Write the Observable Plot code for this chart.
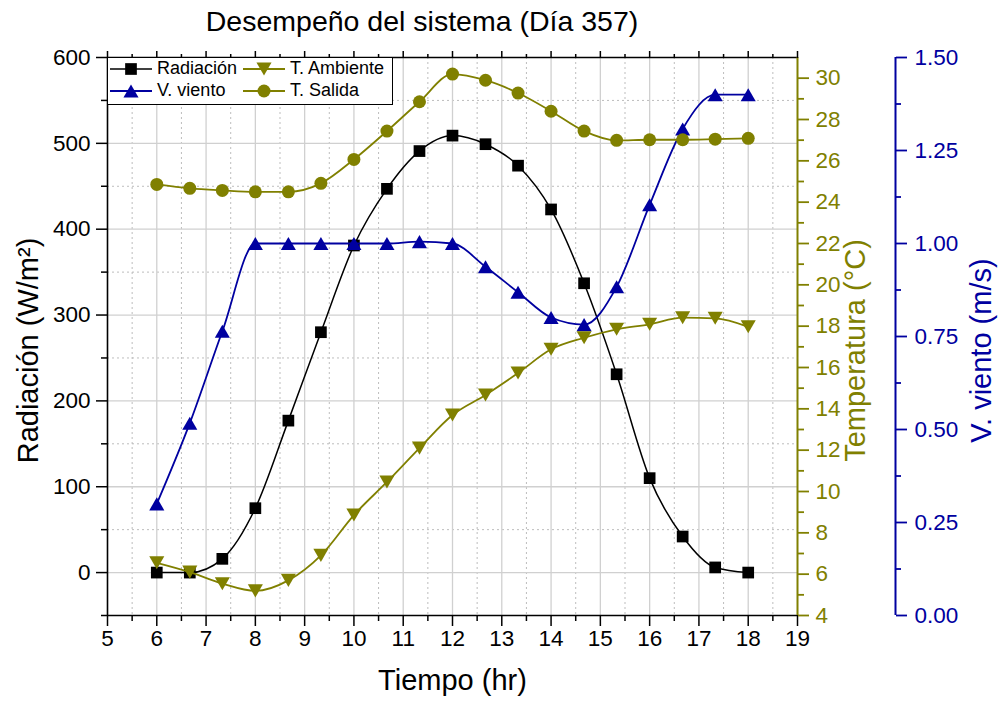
<!DOCTYPE html>
<html><head><meta charset="utf-8">
<script src="https://cdn.jsdelivr.net/npm/d3@7"></script>
<script src="https://cdn.jsdelivr.net/npm/@observablehq/plot@0.6"></script>
<style>
body{margin:0;background:#fff;font-family:"Liberation Sans",Arial,sans-serif;}
#wrap{position:relative;width:999px;height:705px;overflow:hidden;}
#title{position:absolute;left:0;top:0;width:844px;height:40px;line-height:42px;text-align:center;font-size:28.5px;color:#000;}
#chart{position:absolute;left:0;top:40px;}
#legend{position:absolute;left:107px;top:57px;width:286px;height:48px;border:1.5px solid #000;background:#fff;box-sizing:border-box;}
.item{position:absolute;display:flex;align-items:center;font-size:18px;height:22px;}
.item svg{margin-right:4px;}
</style>
</head><body>
<div id="wrap">
  <div id="title">Desempeño del sistema (Día 357)</div>
  <div id="chart"></div>
  <div id="legend"></div>
</div>
<script>
// ---- data ----
const times = [6, 6.67, 7.33, 8, 8.67, 9.33, 10, 10.67, 11.33, 12, 12.67, 13.33, 14, 14.67, 15.33, 16, 16.67, 17.33, 18];
const radiacion = [0, 0, 16, 75, 177, 280, 381, 447, 491, 509, 499, 474, 423, 337, 231, 110, 42, 6, 0];
const vViento = [0.30, 0.517, 0.764, 1.0, 1.0, 1.0, 1.0, 1.0, 1.005, 1.0, 0.9375, 0.869, 0.801, 0.782, 0.8835, 1.104, 1.308, 1.40, 1.40];
const tAmbiente = [6.55, 6.1, 5.54, 5.19, 5.70, 6.91, 8.86, 10.46, 12.1, 13.7, 14.67, 15.73, 16.88, 17.44, 17.85, 18.09, 18.41, 18.38, 17.97];
const tSalida = [24.86, 24.67, 24.57, 24.5, 24.5, 24.91, 26.07, 27.44, 28.86, 30.2, 29.9, 29.28, 28.4, 27.44, 26.99, 27.02, 27.02, 27.05, 27.09];

const xTicks = [5,6,7,8,9,10,11,12,13,14,15,16,17,18,19];
const radTicks = [0,100,200,300,400,500,600];
const tempTicks = [4,6,8,10,12,14,16,18,20,22,24,26,28,30];
const windTicks = [0,0.25,0.5,0.75,1.0,1.25,1.5];

const xDomain = [5,19];
const radDomain = [-50,600];
const tempDomain = [4,31];
const windDomain = [0,1.5];

const BLACK = "#000", OLIVE = "#808000", BLUE = "#0000a0";

// secondary axes mapped onto the primary (radiation) scale
const toTemp = d3.scaleLinear().domain(tempDomain).range(radDomain);
const toWind = d3.scaleLinear().domain(windDomain).range(radDomain);

const rows = times.map((t,i)=>({t, rad: radiacion[i], amb: tAmbiente[i], sal: tSalida[i], wind: vViento[i]}));

function triSym(down){
  return {draw(ctx, size){
    const w = Math.sqrt(size*4/Math.sqrt(3)), h = w*Math.sqrt(3)/2, s = down ? -1 : 1;
    ctx.moveTo(0, -s*h/2); ctx.lineTo(w/2, s*h/2); ctx.lineTo(-w/2, s*h/2); ctx.closePath();
  }};
}
const UP = triSym(false), DOWN = triSym(true);

const series = [
  {name:"Radiación", key:"rad", map:d=>d, color:BLACK, symbol:"square", r:6.6, sw:1.5},
  {name:"V. viento", key:"wind", map:toWind, color:BLUE, symbol:UP, r:5.6, sw:1.8},
  {name:"T. Ambiente", key:"amb", map:toTemp, color:OLIVE, symbol:DOWN, r:5.6, sw:1.8},
  {name:"T. Salida", key:"sal", map:toTemp, color:OLIVE, symbol:"circle", r:6.5, sw:1.8}
];

const minorX = d3.range(5.5, 19, 1);
const minorRad = d3.range(-50, 600, 100);
const gridMajorY = radTicks.slice(0, -1);
const gridMinorY = d3.range(50, 600, 100);
const minorTemp = d3.range(5, 31, 2);
const minorWind = d3.range(0.125, 1.5, 0.25);

const axisFont = 22.5;
const titleFont = 29;
const marks = [
  // grid
  Plot.ruleX(minorX, {stroke:"#bdbdbd", strokeDasharray:"2,3", strokeWidth:1}),
  Plot.ruleY(gridMinorY, {stroke:"#bdbdbd", strokeDasharray:"2,3", strokeWidth:1}),
  Plot.ruleX(xTicks.slice(1,-1), {stroke:"#d0d0d0", strokeWidth:1.3}),
  Plot.ruleY(gridMajorY, {stroke:"#d0d0d0", strokeWidth:1.3}),
  // series
  ...series.flatMap(s => [
    Plot.line(rows, {x:"t", y:d=>s.map(d[s.key]), curve:"monotone-x", stroke:s.color, strokeWidth:s.sw}),
    Plot.dot(rows, {x:"t", y:d=>s.map(d[s.key]), symbol:()=>s.symbol, r:s.r, fill:s.color, stroke:"none"})
  ]),
  // frame
  Plot.ruleY([radDomain[0]], {stroke:BLACK, strokeWidth:1.6}),
  Plot.ruleY([radDomain[1]], {stroke:BLACK, strokeWidth:1.6}),
  Plot.ruleX([xDomain[0]], {stroke:BLACK, strokeWidth:1.6}),
  Plot.ruleX([xDomain[1]], {stroke:OLIVE, strokeWidth:2}),
  Plot.ruleX([xDomain[1]], {stroke:BLUE, strokeWidth:2, dx:98}),
  // bottom axis
  Plot.axisX(xTicks, {anchor:"bottom", tickSize:11, tickPadding:4, fontSize:axisFont, strokeWidth:1.5, label:null, tickFormat:d=>String(d)}),
  Plot.axisX(minorX, {anchor:"bottom", tickSize:6, strokeWidth:1.5, label:null, tickFormat:()=>""}),
  // top ticks
  Plot.axisX(xTicks, {anchor:"top", tickSize:7, strokeWidth:1.5, label:null, tickFormat:()=>""}),
  Plot.axisX(minorX, {anchor:"top", tickSize:4, strokeWidth:1.5, label:null, tickFormat:()=>""}),
  // left axis
  Plot.axisY(radTicks, {anchor:"left", tickSize:11, tickPadding:6, fontSize:axisFont, strokeWidth:1.5, label:null, tickFormat:d=>String(d)}),
  Plot.axisY(minorRad, {anchor:"left", tickSize:6, strokeWidth:1.5, label:null, tickFormat:()=>""}),
  // temperature axis
  Plot.axisY(tempTicks.map(toTemp), {anchor:"right", color:OLIVE, tickSize:11, tickPadding:7, fontSize:axisFont, strokeWidth:1.8, label:null, tickFormat:v=>String(Math.round(toTemp.invert(v)))}),
  Plot.axisY(minorTemp.map(toTemp), {anchor:"right", color:OLIVE, tickSize:6, strokeWidth:1.8, label:null, tickFormat:()=>""}),
  // wind axis
  Plot.axisY(windTicks.map(toWind), {anchor:"right", dx:98, color:BLUE, tickSize:11, tickPadding:8, fontSize:axisFont, strokeWidth:1.8, label:null, tickFormat:v=>toWind.invert(v).toFixed(2)}),
  Plot.axisY(minorWind.map(toWind), {anchor:"right", dx:98, color:BLUE, tickSize:5, strokeWidth:1.8, label:null, tickFormat:()=>""}),
  // axis titles
  Plot.text(["Radiación (W/m²)"], {text:d=>d, frameAnchor:"left", textAnchor:"middle", dx:-79, dy:14, rotate:-90, fontSize:titleFont, fill:BLACK}),
  Plot.text(["Temperatura (°C)"], {text:d=>d, frameAnchor:"right", textAnchor:"middle", dx:58, dy:14, rotate:-90, fontSize:titleFont, fill:OLIVE}),
  Plot.text(["V. viento (m/s)"], {text:d=>d, frameAnchor:"right", textAnchor:"middle", dx:184, dy:14, rotate:-90, fontSize:titleFont, fill:BLUE}),
  Plot.text(["Tiempo (hr)"], {text:d=>d, frameAnchor:"bottom", textAnchor:"middle", dy:74, fontSize:titleFont, fill:BLACK})
];

const chart = Plot.plot({
  width: 999, height: 665,
  marginLeft: 107, marginRight: 202, marginTop: 17, marginBottom: 90,
  x: {domain: xDomain},
  y: {domain: radDomain},
  style: {fontFamily: "'Liberation Sans', Arial, sans-serif", background: "transparent", overflow: "visible", color: "#000"},
  marks
});
document.getElementById("chart").appendChild(chart);

// legend
const legend = document.getElementById("legend");
const order = [
  [series[0], 1, 12], [series[2], 134, 12],
  [series[1], 1, 34], [series[3], 134, 34]
];
for (const [s, left, cy] of order) {
  const div = document.createElement("div");
  div.className = "item";
  div.style.left = left + "px";
  div.style.top = (cy - 11 - 1.5) + "px";
  const svg = d3.create("svg").attr("width", 44).attr("height", 22);
  svg.append("line").attr("x1", 1).attr("x2", 43).attr("y1", 11).attr("y2", 11).attr("stroke", s.color).attr("stroke-width", s.sw);
  const sym = typeof s.symbol === "string" ? (s.symbol === "square" ? d3.symbolSquare : d3.symbolCircle) : s.symbol;
  svg.append("path").attr("transform", "translate(22,11)").attr("d", d3.symbol(sym, Math.PI * s.r * s.r)()).attr("fill", s.color);
  div.appendChild(svg.node());
  const span = document.createElement("span");
  span.textContent = s.name;
  div.appendChild(span);
  legend.appendChild(div);
}
</script>
</body></html>
